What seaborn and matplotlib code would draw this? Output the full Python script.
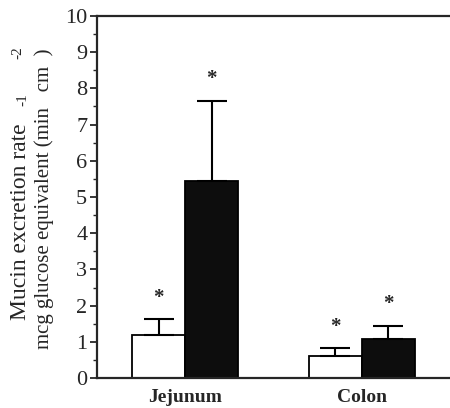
import matplotlib
matplotlib.use("Agg")
import matplotlib.pyplot as plt
import seaborn as sns
import pandas as pd
from matplotlib.ticker import MultipleLocator

regions = ["Jejunum", "Colon"]
groups = ["open", "filled"]
open_mean = [1.18, 0.60]
open_err = [0.44, 0.22]
filled_mean = [5.45, 1.07]
filled_err = [2.20, 0.37]

df = pd.DataFrame({
    "region": regions * 2,
    "group": [groups[0]] * 2 + [groups[1]] * 2,
    "rate": open_mean + filled_mean,
    "err": open_err + filled_err,
})

sns.set_style("ticks")
plt.rcParams["font.family"] = ["Liberation Serif", "DejaVu Serif"]

fig = plt.figure(figsize=(4.5, 4.08), dpi=100)
ax = fig.add_axes([0.2156, 0.0735, 0.7844, 0.8873])

sns.barplot(data=df, x="region", y="rate", hue="group", order=regions,
            hue_order=groups, palette=["white", "#0d0d0d"], width=0.6,
            edgecolor="black", linewidth=1.3, errorbar=None, legend=False, ax=ax)

# one-sided error bars and asterisks on the bar centres
for bar, (_, row) in zip(ax.patches, df.iterrows()):
    xc = bar.get_x() + bar.get_width() / 2
    top = bar.get_height()
    ax.errorbar(xc, top, yerr=[[0], [row["err"]]], fmt="none", ecolor="black",
                elinewidth=1.5, capsize=10.5, capthick=1.5, zorder=3)
    ax.text(xc, top + row["err"] + 0.6, "*", ha="center", va="center",
            fontsize=15, fontweight="bold")

ax.set_xlim(-0.5, 1.5)
ax.set_ylim(0, 10)
ax.yaxis.set_major_locator(MultipleLocator(1))
ax.yaxis.set_minor_locator(MultipleLocator(0.5))
ax.tick_params(axis="y", which="major", length=5, width=1.3, labelsize=16, pad=2)
ax.tick_params(axis="y", which="minor", length=3, width=1.0)
ax.tick_params(axis="x", length=0, labelsize=14, pad=8)
for lab in ax.get_xticklabels():
    lab.set_fontweight("bold")

for s in ["left", "bottom", "top"]:
    ax.spines[s].set_linewidth(1.6)
ax.spines["right"].set_visible(False)

ax.set_xlabel("")
ax.set_ylabel("")
# y label laid out like the original: exponents sit on the upper line
fig.text(0.0456, 0.457, "Mucin excretion rate", rotation=90, ha="center",
         va="center", fontsize=17)
fig.text(0.098, 0.5135, "mcg glucose equivalent (min   cm  )", rotation=90,
         ha="center", va="center", fontsize=15)
fig.text(0.050, 0.755, "-1", rotation=90, ha="center", va="center", fontsize=11)
fig.text(0.039, 0.870, "-2", rotation=90, ha="center", va="center", fontsize=11)

fig.savefig("out.png", dpi=100)
